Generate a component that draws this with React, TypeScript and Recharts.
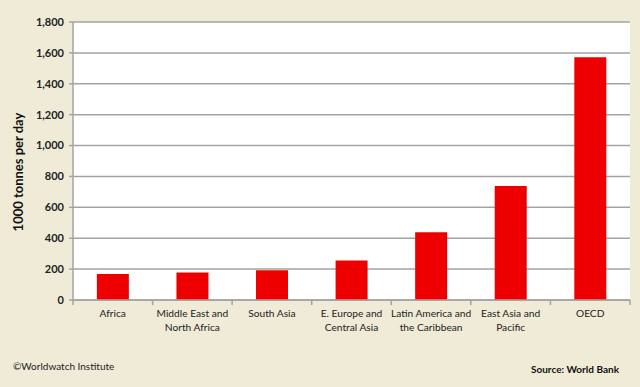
import React from 'react';
import { BarChart, Bar, XAxis, YAxis, CartesianGrid } from 'recharts';

const regions = [
  'Africa',
  'Middle East and\nNorth Africa',
  'South Asia',
  'E. Europe and\nCentral Asia',
  'Latin America and\nthe Caribbean',
  'East Asia and\nPacific',
  'OECD',
];
const tonnesPerDay = [168, 178, 193, 256, 438, 738, 1571];
const yTicks = [0, 200, 400, 600, 800, 1000, 1200, 1400, 1600, 1800];

const W = 640;
const H = 387;
const MARGIN = { top: 22, right: 10, left: 20, bottom: 42 };
const Y_AXIS_W = 53;
const FONT = 'Lato, "Open Sans", sans-serif';
const BG = '#efebd7';
const AXIS = '#a3a3a3';

const chartData = regions.map((name, i) => ({ name, value: tonnesPerDay[i] }));
const halfBand = (W - MARGIN.left - MARGIN.right - Y_AXIS_W) / regions.length / 2;

const fmt = (v: number) => v.toLocaleString('en-US');

const RegionTick = (props: any) => {
  const { x, y, payload, index } = props;
  const lines = String(payload.value).split('\n');
  return (
    <g>
      <line x1={x - halfBand} y1={y} x2={x - halfBand} y2={y + 5} stroke={AXIS} strokeWidth={1.5} />
      {index === regions.length - 1 && (
        <line x1={x + halfBand} y1={y} x2={x + halfBand} y2={y + 5} stroke={AXIS} strokeWidth={1.5} />
      )}
      <text x={x} y={y} textAnchor="middle" fill="#222" fontSize={10.2} fontFamily={FONT}>
        {lines.map((l, i) => (
          <tspan key={i} x={x} dy={i === 0 ? 17 : 14}>
            {l}
          </tspan>
        ))}
      </text>
    </g>
  );
};

export default function App() {
  return (
    <div style={{ position: 'absolute', left: 0, top: 0, width: W, height: H, background: BG, fontFamily: FONT }}>
      <BarChart width={W} height={H} data={chartData} margin={MARGIN} barCategoryGap="30%">
        <CartesianGrid vertical={false} stroke={AXIS} strokeWidth={1.5} fill="#ffffff" />
        <XAxis
          dataKey="name"
          interval={0}
          height={45}
          tickSize={0}
          tickMargin={0}
          tick={<RegionTick />}
          axisLine={{ stroke: AXIS, strokeWidth: 1.5 }}
          tickLine={false}
        />
        <YAxis
          width={Y_AXIS_W}
          domain={[0, 1800]}
          ticks={yTicks}
          interval={0}
          tickFormatter={fmt}
          tick={{ fill: '#222', fontSize: 11, fontFamily: FONT, fontWeight: 700 }}
          tickSize={4}
          tickMargin={5}
          axisLine={{ stroke: AXIS, strokeWidth: 1.5 }}
          tickLine={{ stroke: AXIS, strokeWidth: 1.5 }}
        />
        <Bar dataKey="value" fill="#ee0000" isAnimationActive={false} />
      </BarChart>
      <div
        style={{
          position: 'absolute',
          left: 18,
          top: 172,
          transform: 'translate(-50%, -50%) rotate(-90deg)',
          whiteSpace: 'nowrap',
          fontSize: 13,
          fontWeight: 700,
          color: '#111',
        }}
      >
        1000 tonnes per day
      </div>
      <div style={{ position: 'absolute', left: 13, top: 360, fontSize: 10, color: '#222' }}>
        ©Worldwatch Institute
      </div>
      <div style={{ position: 'absolute', right: 21, top: 363, fontSize: 10, fontWeight: 700, color: '#111' }}>
        Source: World Bank
      </div>
    </div>
  );
}
